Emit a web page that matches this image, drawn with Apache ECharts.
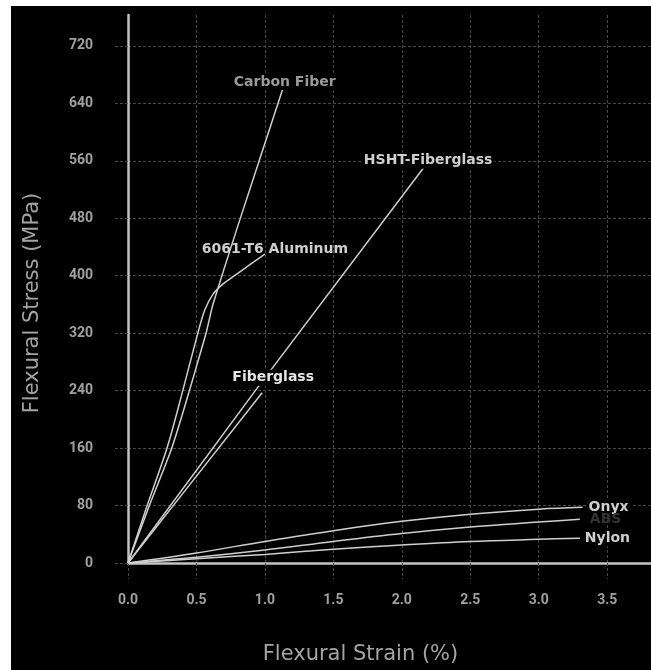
<!DOCTYPE html>
<html><head><meta charset="utf-8">
<script src="https://cdn.jsdelivr.net/npm/echarts@6/dist/echarts.min.js"></script>
<style>
html,body{margin:0;padding:0;background:#fff;width:651px;height:670px;overflow:hidden}
#c{position:absolute;left:11px;top:6px;width:640px;height:664px;background:#000}
</style>
</head><body><div id="c"></div>
<script>
// ---- data ----
const carbonStrain = [0, 0.16, 0.32, 0.57, 0.62, 0.80, 1.13];
const carbonStress = [0, 82, 160, 320, 360, 468, 660];

const aluminumStrain = [0, 0.14, 0.285, 0.40, 0.51, 0.56, 0.62, 0.69, 0.77, 0.88, 1.0];
const aluminumStress = [0, 80, 160, 240, 320, 352, 374, 388, 399, 414, 430];

const hshtStrain = [0, 0.93, 2.17];
const hshtStress = [0, 240, 553];

const fiberglassStrain = [0, 0.5, 0.98];
const fiberglassStress = [0, 121, 237];

const onyxStrain = [0, 0.5, 1.0, 1.5, 2.0, 2.5, 3.0, 3.32];
const onyxStress = [0, 14, 30, 45, 58, 68, 75, 77.5];

const absStrain = [0, 0.5, 1.0, 1.5, 2.0, 2.5, 3.0, 3.3];
const absStress = [0, 8, 18, 30, 41, 50, 57, 61];

const nylonStrain = [0, 0.5, 1.0, 1.5, 2.0, 2.5, 3.0, 3.3];
const nylonStress = [0, 6, 12, 19, 25, 30, 33, 34.6];

const seriesNames = ['Carbon Fiber', '6061-T6 Aluminum', 'HSHT-Fiberglass', 'Fiberglass', 'Onyx', 'ABS', 'Nylon'];

const xTickInterval = 0.5;
const yTickInterval = 80;

// ---- styles ----
const FONT = 'Roboto';
const LABEL_FONT = 'DejaVu Sans';
const TITLE_FONT = 'DejaVu Sans';
const labelStyles = {
  'Carbon Fiber':     {align: 'center', verticalAlign: 'middle', distance: 0, offset: [2, -7], color: '#9a9a9a', backgroundColor: '#000'},
  '6061-T6 Aluminum': {align: 'center', verticalAlign: 'middle', distance: 0, offset: [10, -5], color: '#cfcfcf'},
  'HSHT-Fiberglass':  {align: 'center', verticalAlign: 'middle', distance: 0, offset: [3, -5], color: '#cfcfcf', backgroundColor: '#000'},
  'Fiberglass':       {align: 'center', verticalAlign: 'middle', distance: 0, offset: [11, -15], color: '#e6e6e6', backgroundColor: '#000'},
  'Onyx':             {align: 'left', verticalAlign: 'middle', distance: 4, color: '#cfcfcf', backgroundColor: '#000'},
  'ABS':              {align: 'left', verticalAlign: 'middle', distance: 8, color: '#333333'},
  'Nylon':            {align: 'left', verticalAlign: 'middle', distance: 3, color: '#cfcfcf', backgroundColor: '#000'}
};
const smoothness = {'Carbon Fiber': 0.15, '6061-T6 Aluminum': 0.3, 'HSHT-Fiberglass': 0, 'Fiberglass': 0,
  'Onyx': 0.35, 'ABS': 0.35, 'Nylon': 0.35};

const seriesData = [
  [carbonStrain, carbonStress],
  [aluminumStrain, aluminumStress],
  [hshtStrain, hshtStress],
  [fiberglassStrain, fiberglassStress],
  [onyxStrain, onyxStress],
  [absStrain, absStress],
  [nylonStrain, nylonStress]
];

const series = seriesData.map(([xs, ys], i) => {
  const name = seriesNames[i];
  const data = xs.map((x, j) => [x, ys[j]]);
  return {
    name, type: 'line', data, showSymbol: false, symbol: 'none',
    smooth: smoothness[name],
    lineStyle: {color: '#cfcfcf', width: 1.5},
    endLabel: Object.assign({
      show: true, formatter: name, fontFamily: LABEL_FONT, fontSize: 14, fontWeight: 'bold', padding: [1, 2]
    }, labelStyles[name]),
    emphasis: {disabled: true}, animation: false
  };
});

const gridLine = {color: '#484848', type: [3, 2], width: 1};

const chart = echarts.init(document.getElementById('c'), null, {renderer: 'canvas'});
chart.setOption({
  backgroundColor: '#000',
  animation: false,
  grid: {left: 117, right: 0, top: 9, bottom: 104, containLabel: false},
  xAxis: {
    type: 'value', min: 0, max: 3.82, interval: xTickInterval,
    name: 'Flexural Strain (%)', nameLocation: 'middle', nameGap: 81,
    nameTextStyle: {color: '#a4a4a4', fontSize: 21, fontFamily: TITLE_FONT, padding: [0, 58, 0, 0]},
    axisLine: {lineStyle: {color: '#c4c4c4', width: 2.5}},
    axisTick: {show: true, inside: false, length: 16, lineStyle: gridLine},
    axisLabel: {color: '#a0a0a0', fontSize: 14, fontWeight: 'bold', fontFamily: FONT, margin: 30,
      showMaxLabel: false, formatter: v => v.toFixed(1)},
    splitLine: {show: true, showMaxLine: false, lineStyle: gridLine}
  },
  yAxis: {
    type: 'value', min: 0, max: 763, interval: yTickInterval,
    name: 'Flexural Stress (MPa)', nameLocation: 'middle', nameGap: 85,
    nameTextStyle: {color: '#a4a4a4', fontSize: 21, fontFamily: TITLE_FONT, padding: [0, 28, 0, 0]},
    axisLine: {show: true, lineStyle: {color: '#c4c4c4', width: 2.5}},
    axisTick: {show: true, inside: false, length: 15, lineStyle: gridLine},
    axisLabel: {color: '#a0a0a0', fontSize: 14, fontWeight: 'bold', fontFamily: FONT, margin: 35,
      showMaxLabel: false},
    splitLine: {show: true, showMaxLine: false, lineStyle: gridLine}
  },
  series
});
</script>
</body></html>
